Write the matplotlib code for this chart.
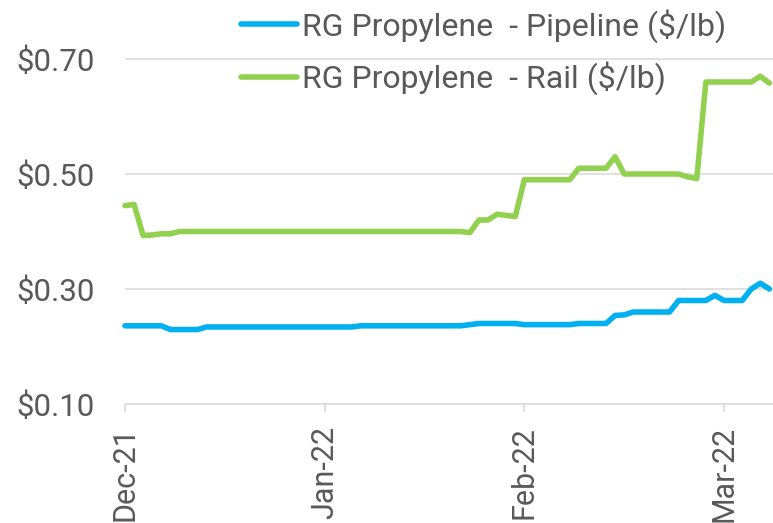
import numpy as np
import matplotlib
matplotlib.use('Agg')
import matplotlib.pyplot as plt
from matplotlib.ticker import FuncFormatter

plt.rcParams['font.family'] = ['Roboto', 'DejaVu Sans']

# price series (one value per trading day)
pipeline = [0.236, 0.236, 0.236, 0.236, 0.236, 0.2295, 0.2295, 0.2295, 0.2295, 0.234,
            0.234, 0.234, 0.234, 0.234, 0.234, 0.234, 0.234, 0.234, 0.234, 0.234,
            0.234, 0.234, 0.234, 0.234, 0.234, 0.234, 0.236, 0.236, 0.236, 0.236,
            0.236, 0.236, 0.236, 0.236, 0.236, 0.236, 0.236, 0.236, 0.238, 0.240,
            0.240, 0.240, 0.240, 0.240, 0.238, 0.238, 0.238, 0.238, 0.238, 0.238,
            0.240, 0.240, 0.240, 0.240, 0.254, 0.255, 0.260, 0.260, 0.260, 0.260,
            0.260, 0.280, 0.280, 0.280, 0.280, 0.289, 0.280, 0.280, 0.280, 0.300,
            0.310, 0.300]
rail = [0.445, 0.447, 0.393, 0.394, 0.396, 0.396, 0.400, 0.400, 0.400, 0.400,
        0.400, 0.400, 0.400, 0.400, 0.400, 0.400, 0.400, 0.400, 0.400, 0.400,
        0.400, 0.400, 0.400, 0.400, 0.400, 0.400, 0.400, 0.400, 0.400, 0.400,
        0.400, 0.400, 0.400, 0.400, 0.400, 0.400, 0.400, 0.400, 0.398, 0.420,
        0.420, 0.430, 0.428, 0.426, 0.490, 0.490, 0.490, 0.490, 0.490, 0.490,
        0.510, 0.510, 0.510, 0.510, 0.530, 0.500, 0.500, 0.500, 0.500, 0.500,
        0.500, 0.500, 0.495, 0.492, 0.660, 0.660, 0.660, 0.660, 0.660, 0.660,
        0.670, 0.658]

tick_pos = [0, 22, 44, 66]
tick_labels = ['Dec-21', 'Jan-22', 'Feb-22', 'Mar-22']
y_ticks = [0.10, 0.30, 0.50, 0.70]

text_col = '#595959'
grid_col = '#D9D9D9'

fig = plt.figure(figsize=(7.73, 5.23), dpi=100)
# axes: left edge at x=125px, bottom at y=404px, up to the top of the figure
ax = fig.add_axes([125/773, (523-404)/523, 1 - 125/773, 404/523])

x = np.arange(len(pipeline))
ax.plot(x, pipeline, color='#00B0F0', lw=4.0, solid_capstyle='round',
        solid_joinstyle='round', label='RG Propylene  - Pipeline ($/lb)', clip_on=False, zorder=3)
ax.plot(x, rail, color='#92D050', lw=4.0, solid_capstyle='round',
        solid_joinstyle='round', label='RG Propylene  - Rail ($/lb)', clip_on=False, zorder=3)

ax.set_xlim(0, (773-125)/(599/66))
ax.set_ylim(0.10, 0.10 + 404/575)

ax.set_yticks(y_ticks)
ax.yaxis.set_major_formatter(FuncFormatter(lambda v, p: '${:.2f}'.format(v)))
ax.set_xticks(tick_pos)
ax.set_xticklabels(tick_labels, rotation=90)

ax.tick_params(axis='y', length=0, pad=22, labelsize=22.5, labelcolor=text_col)
ax.tick_params(axis='x', length=6, width=1.1, color=grid_col, pad=10,
               labelsize=22, labelcolor=text_col)

ax.grid(axis='y', color=grid_col, lw=1.1)
ax.set_axisbelow(True)
for s in ['top', 'right', 'left']:
    ax.spines[s].set_visible(False)
ax.spines['bottom'].set_color(grid_col)
ax.spines['bottom'].set_linewidth(1.1)

leg = fig.legend(loc='upper left', bbox_to_anchor=(241/773, 1 - 9/523), frameon=False,
                 fontsize=23, handlelength=1.75, handletextpad=0.15,
                 labelspacing=0.58, borderpad=0, borderaxespad=0)
for t in leg.get_texts():
    t.set_color(text_col)

fig.savefig('out.png', dpi=100)
